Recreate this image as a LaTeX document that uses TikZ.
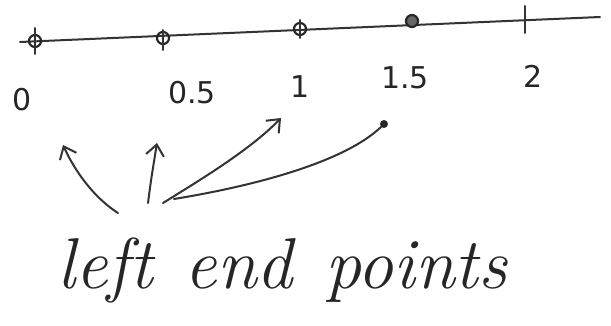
\documentclass[tikz,border=0pt]{standalone}
\usepackage{fontspec}
\newfontfamily\handfont{DejaVu Sans}[Scale=1]
\usetikzlibrary{arrows.meta}
\begin{document}
\begin{tikzpicture}[x=1pt,y=-1pt,
  ink/.style={line width=2pt,draw=black!80,line cap=round},
  ept/.style={circle,draw=black!85,line width=2.2pt,minimum size=12pt,inner sep=0pt},
  lbl/.style={font=\handfont\fontsize{30}{36}\selectfont,text=black!85},
  arr/.style={ink,-{Straight Barb[length=11pt,width=18pt,line width=2pt]}}]
\useasboundingbox (0,0) rectangle (611,326);
% number line
\coordinate (L) at (20,42);
\coordinate (R) at (600,17);
\draw[ink] (L) -- (R);
\node[ept] (p0) at (35,41) {};
\node[ept] (p05) at (163,38) {};
\node[ept] (p1) at (300,29) {};
\node[ept,fill=black!60] (p15) at (412,21) {};
\coordinate (t2a) at (525,6);
\coordinate (t2b) at (525,33);
\draw[ink] (t2a) -- (t2b);
\draw[ink] (35,28) -- (35,54);
\draw[ink] (163,30) -- (163,50);
\draw[ink] (300,20) -- (300,38);
% labels
\node[lbl] (l0) at (22,100) {0};
\node[lbl] (l05) at (192,93) {0.5};
\node[lbl] (l1) at (300,87) {1};
\node[lbl] (l15) at (405,78) {1.5};
\node[lbl] (l2) at (533,76) {2};
% text
\node[font=\fontsize{72}{80}\selectfont\itshape,text=black!85] (txt) at (282,270) {left\hspace{0.45em}end\hspace{0.45em}points};
% arrows
\coordinate (s1) at (118,213);
\coordinate (e1) at (63,145);
\coordinate (s2) at (148,203);
\coordinate (e2) at (157,143);
\coordinate (s3) at (163,203);
\coordinate (e3) at (281,118);
\coordinate (s4) at (174,199);
\coordinate (e4) at (384,124);
\draw[arr] (s1) .. controls (90,195) and (72,165) .. (e1);
\draw[arr] (s2) .. controls (151,180) .. (e2);
\draw[arr] (s3) .. controls (200,180) and (250,150) .. (e3);
\draw[ink] (s4) .. controls (260,185) and (350,160) .. (e4);
\fill[black!85] (e4) circle (4pt);
\end{tikzpicture}
\end{document}
